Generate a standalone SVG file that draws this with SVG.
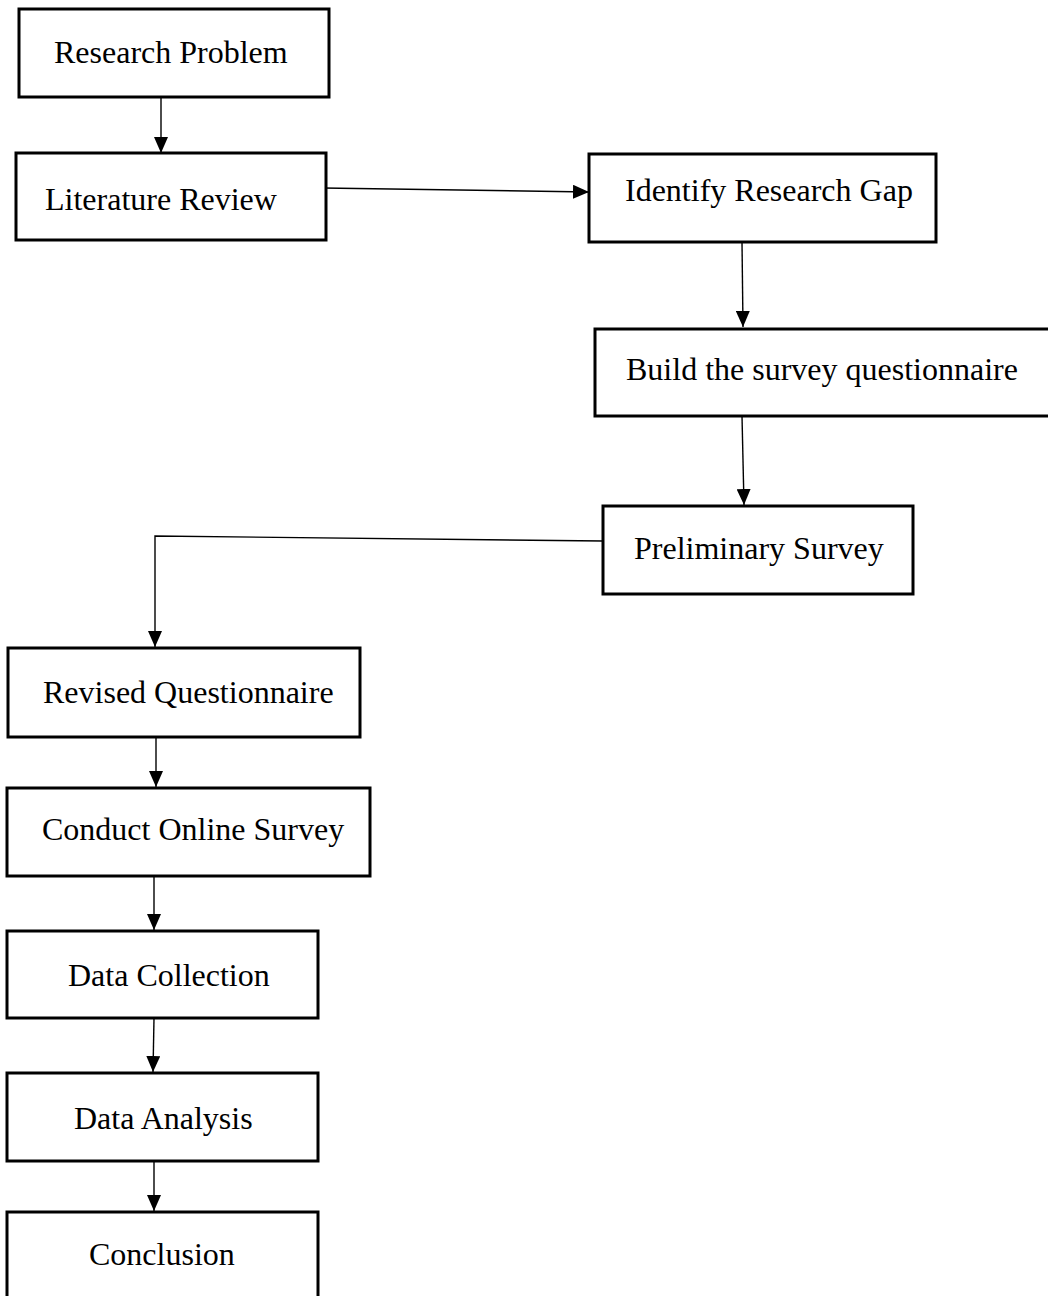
<svg xmlns="http://www.w3.org/2000/svg" width="1048" height="1296" viewBox="0 0 1048 1296">
<style>
  .box { fill: #fff; stroke: #000; stroke-width: 3; }
  .lbl { font-family: "Liberation Serif", "Times New Roman", serif; font-size: 32px; fill: #000; }
  .edge { fill: none; stroke: #000; stroke-width: 1.4; }
</style>
<defs>
  <marker id="ah" markerUnits="userSpaceOnUse" markerWidth="16" markerHeight="14" refX="16" refY="7" orient="auto">
    <path d="M0,0 L16,7 L0,14 z" fill="#000"/>
  </marker>
</defs>
<rect width="1048" height="1296" fill="#fff"/>
<g id="connectors">
  <line class="edge" x1="161" y1="97" x2="161" y2="153" marker-end="url(#ah)"/>
  <line class="edge" x1="323" y1="188" x2="589" y2="192" marker-end="url(#ah)"/>
  <line class="edge" x1="742" y1="242" x2="743" y2="327" marker-end="url(#ah)"/>
  <line class="edge" x1="742" y1="416" x2="744" y2="505" marker-end="url(#ah)"/>
  <polyline class="edge" points="603,541 155,536 155,647" marker-end="url(#ah)"/>
  <line class="edge" x1="156" y1="737" x2="156" y2="787" marker-end="url(#ah)"/>
  <line class="edge" x1="154" y1="876" x2="154" y2="930" marker-end="url(#ah)"/>
  <line class="edge" x1="154" y1="1018" x2="153" y2="1072" marker-end="url(#ah)"/>
  <line class="edge" x1="154" y1="1161" x2="154" y2="1211" marker-end="url(#ah)"/>
</g>
<g id="n-research-problem">
  <rect class="box" x="19" y="9" width="310" height="88"/>
  <text class="lbl" x="54" y="63">Research Problem</text>
</g>
<g id="n-literature-review">
  <rect class="box" x="16" y="153" width="310" height="87"/>
  <text class="lbl" x="45" y="210">Literature Review</text>
</g>
<g id="n-identify-gap">
  <rect class="box" x="589" y="154" width="347" height="88"/>
  <text class="lbl" x="625" y="201">Identify Research Gap</text>
</g>
<g id="n-build-survey">
  <rect class="box" x="595" y="329" width="470" height="87"/>
  <text class="lbl" x="626" y="380">Build the survey questionnaire</text>
</g>
<g id="n-preliminary-survey">
  <rect class="box" x="603" y="506" width="310" height="88"/>
  <text class="lbl" x="634" y="559">Preliminary Survey</text>
</g>
<g id="n-revised-questionnaire">
  <rect class="box" x="8" y="648" width="352" height="89"/>
  <text class="lbl" x="43" y="703">Revised Questionnaire</text>
</g>
<g id="n-conduct-online-survey">
  <rect class="box" x="7" y="788" width="363" height="88"/>
  <text class="lbl" x="42" y="840">Conduct Online Survey</text>
</g>
<g id="n-data-collection">
  <rect class="box" x="7" y="931" width="311" height="87"/>
  <text class="lbl" x="68" y="986">Data Collection</text>
</g>
<g id="n-data-analysis">
  <rect class="box" x="7" y="1073" width="311" height="88"/>
  <text class="lbl" x="74" y="1129">Data Analysis</text>
</g>
<g id="n-conclusion">
  <rect class="box" x="7" y="1212" width="311" height="110"/>
  <text class="lbl" x="89" y="1265">Conclusion</text>
</g>
</svg>
